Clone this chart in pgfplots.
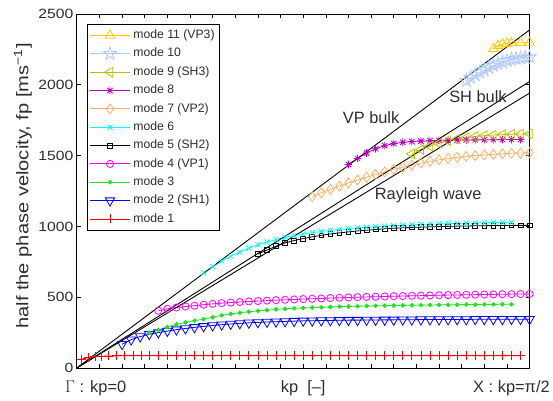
\documentclass[border=0pt]{standalone}
\usepackage{fontspec}
\setmainfont{Liberation Sans}
\newfontfamily\tickfont{Liberation Sans}[FakeStretch=1.17]
\newfontfamily\ylabfont{Liberation Sans}[FakeStretch=1.19]
\usepackage{pgfplots}
\pgfplotsset{compat=1.18}
\definecolor{cA}{RGB}{255,200,0}
\definecolor{cB}{RGB}{175,200,255}
\definecolor{cC}{RGB}{190,190,0}
\definecolor{cD}{RGB}{190,0,190}
\definecolor{cE}{RGB}{255,175,100}
\definecolor{cF}{RGB}{0,255,255}
\definecolor{cG}{RGB}{0,0,0}
\definecolor{cH}{RGB}{255,0,255}
\definecolor{cI}{RGB}{30,230,30}
\definecolor{cJ}{RGB}{0,0,255}
\definecolor{cK}{RGB}{255,0,0}
\definecolor{txt}{RGB}{45,45,45}
\pgfdeclareplotmark{pentagram}{%
 \pgfpathmoveto{\pgfpointpolar{90}{\pgfplotmarksize}}%
 \pgfpathlineto{\pgfpointpolar{126}{0.382*\pgfplotmarksize}}%
 \pgfpathlineto{\pgfpointpolar{162}{\pgfplotmarksize}}%
 \pgfpathlineto{\pgfpointpolar{198}{0.382*\pgfplotmarksize}}%
 \pgfpathlineto{\pgfpointpolar{234}{\pgfplotmarksize}}%
 \pgfpathlineto{\pgfpointpolar{270}{0.382*\pgfplotmarksize}}%
 \pgfpathlineto{\pgfpointpolar{306}{\pgfplotmarksize}}%
 \pgfpathlineto{\pgfpointpolar{342}{0.382*\pgfplotmarksize}}%
 \pgfpathlineto{\pgfpointpolar{18}{\pgfplotmarksize}}%
 \pgfpathlineto{\pgfpointpolar{54}{0.382*\pgfplotmarksize}}%
 \pgfpathclose
 \pgfusepathqstroke
}
\pgfdeclareplotmark{star8}{%
 \pgfpathmoveto{\pgfqpoint{\pgfplotmarksize}{0pt}}\pgfpathlineto{\pgfqpoint{-\pgfplotmarksize}{0pt}}%
 \pgfpathmoveto{\pgfqpoint{0pt}{\pgfplotmarksize}}\pgfpathlineto{\pgfqpoint{0pt}{-\pgfplotmarksize}}%
 \pgfpathmoveto{\pgfpoint{0.707*\pgfplotmarksize}{0.707*\pgfplotmarksize}}\pgfpathlineto{\pgfpoint{-0.707*\pgfplotmarksize}{-0.707*\pgfplotmarksize}}%
 \pgfpathmoveto{\pgfpoint{-0.707*\pgfplotmarksize}{0.707*\pgfplotmarksize}}\pgfpathlineto{\pgfpoint{0.707*\pgfplotmarksize}{-0.707*\pgfplotmarksize}}%
 \pgfusepathqstroke
}
\begin{document}
\begin{tikzpicture}
\begin{axis}[
 scale only axis, width=454bp, height=355bp,
 xmin=0, xmax=50, ymin=0, ymax=2500,
 clip=false,
 axis line style={line width=0.8bp},
 xtick={0,2.5,...,50}, xticklabels={},
 ytick={0,500,...,2500},
 xtick pos=both, ytick pos=both,
 tick align=inside, major tick length=4bp,
 tick style={line width=0.6bp, black},
 /pgf/number format/assume math mode=true,
 /pgf/number format/1000 sep={},
 y tick label style={font=\tickfont\fontsize{13.5}{15}\selectfont, text=txt},
 ylabel={half the phase velocity, fp [ms\textsuperscript{−1}]},
 ylabel style={at={(axis description cs:-0.119,0.514)}, anchor=center, rotate=0, font=\ylabfont\fontsize{17}{19}\selectfont, text=txt},
 every axis plot/.append style={line width=0.8bp},
 legend reversed,
 legend cell align=left,
 legend image code/.code={\draw[mark repeat=2,mark phase=2] plot coordinates {(0bp,0bp)(20.5bp,0bp)(41bp,0bp)};},
 legend style={at={(axis description cs:0.022,0.972)}, anchor=north west,
   font=\fontsize{12.3}{14}\selectfont, text=txt, draw=black, line width=0.8bp,
   inner sep=2bp, row sep=0bp,
   nodes={inner ysep=3.4bp, inner xsep=2.5bp, text height=9bp, text depth=2.6bp}},
]
% mode 1
\addplot[color=cK, mark=+, mark size=4.5bp] coordinates {
(0.5,62)(1.25,73)(2,80)(2.75,83)(3.5,85)(4.4,86)(5.3,86)(6.2,86)(7.1,86)(8,86)
(9,86)(10,86)(11,86)(12,86)(13,86)(14,86)(15,86)(16,86)(17,86)(18,86)(19,86)(20,86)
(21,86)(22,86)(23,86)(24,86)(25,86)(26,86)(27,86)(28,86)(29,86)(30,86)(31,86)(32,86)
(33,86)(34,86)(35,86)(36,86)(37,86)(38,86)(39,86)(40,86)(41,86)(42,86)(43,86)(44,86)
(45,86)(46,86)(47,86)(48,86)(49,86)};
\addlegendentry{mode 1}
% mode 2
\addplot[color=cJ, mark=triangle, mark size=5.5bp, mark options={rotate=180, line width=0.8bp}] coordinates {
(5,168)(6,200)(7,222)(8,238)(9,250)(10,261)(11,271)(12,279)(13,287)(14,294)(15,300)
(16,306)(17,311)(18,315)(19,319)(20,322)(21,325)(22,327)(23,329)(24,331)(25,333)
(26,334)(27,335)(28,336)(29,337)(30,338)(31,338)(32,339)(33,339)(34,340)(35,340)
(36,341)(37,341)(38,342)(39,342)(40,342)(41,343)(42,343)(43,343)(44,344)(45,344)
(46,344)(47,344)(48,345)(49,345)(50,345)};
\addlegendentry{mode 2 (SH1)}
% mode 3
\addplot[color=cI, mark=*, mark size=1.9bp] coordinates {
(8,250)(9,268)(10,290)(11,308)(12,322)(13,334)(14,345)(15,358)(16,372)(17,382)(18,390)
(19,397)(20,403)(21,409)(22,414)(23,418)(24,421)(25,424)(26,427)(27,429)(28,431)
(29,433)(30,435)(31,436)(32,438)(33,439)(34,440)(35,441)(36,442)(37,443)(38,444)
(39,445)(40,446)(41,446)(42,447)(43,448)(44,448)(45,449)(46,449)(47,450)(48,450)};
\addlegendentry{mode 3}
% mode 4
\addplot[color=cH, mark=o, mark size=3.6bp] coordinates {
(9,404)(10,418)(11,427)(12,434)(13,440)(14,447)(15,453)(16,458)(17,462)(18,466)
(19,470)(20,473)(21,476)(22,479)(23,482)(24,484)(25,487)(26,489)(27,491)(28,494)
(29,496)(30,498)(31,500)(32,502)(33,503)(34,505)(35,507)(36,508)(37,510)(38,511)
(39,512)(40,514)(41,515)(42,516)(43,517)(44,518)(45,519)(46,520)(47,521)(48,522)
(49,522)(50,523)};
\addlegendentry{mode 4 (VP1)}
% mode 5
\addplot[color=cG, mark=square, mark size=2.4bp] coordinates {
(20,805)(21,833)(22,860)(23,883)(24,900)(25,914)(26,926)(27,937)(28,946)(29,954)
(30,961)(31,968)(32,973)(33,978)(34,983)(35,987)(36,990)(37,993)(38,995)(39,997)
(40,999)(41,1000)(42,1002)(43,1003)(44,1004)(45,1005)(46,1006)(47,1006)(48,1007)
(49,1007)(50,1007)};
\addlegendentry{mode 5 (SH2)}
% mode 6
\addplot[color=cF, mark=x, mark size=3.6bp] coordinates {
(14,672)(15,715)(16,755)(17,790)(18,818)(19,847)(20,870)(21,890)(22,907)(23,922)
(24,935)(25,946)(26,956)(27,964)(28,972)(29,978)(30,984)(31,989)(32,994)(33,998)
(34,1002)(35,1005)(36,1008)(37,1011)(38,1014)(39,1016)(40,1018)(41,1020)(42,1022)
(43,1023)(44,1025)(45,1026)(46,1027)(47,1028)(48,1029)};
\addlegendentry{mode 6}
% mode 7
\addplot[color=cE, mark=diamond, mark size=5bp] coordinates {
(26,1210)(27,1237)(28,1261)(29,1284)(30,1307)(31,1328)(32,1347)(33,1366)(34,1385)
(35,1402)(36,1418)(37,1433)(38,1447)(39,1460)(40,1470)(41,1479)(42,1487)(43,1494)
(44,1500)(45,1505)(46,1509)(47,1513)(48,1516)(49,1518)(50,1520)};
\addlegendentry{mode 7 (VP2)}
% mode 8
\addplot[color=cD, mark=star8, mark size=3.8bp] coordinates {
(30,1437)(31,1480)(32,1518)(33,1548)(34,1570)(35,1585)(36,1594)(37,1599)(38,1602)
(39,1605)(40,1607)(41,1608)(42,1609)(43,1610)(44,1611)(45,1612)(46,1612)(47,1613)
(48,1613)(49,1613)};
\addlegendentry{mode 8}
% mode 9
\addplot[color=cC, mark=triangle, mark size=5.5bp, mark options={rotate=90}] coordinates {
(37,1512)(38,1542)(39,1566)(40,1587)(41,1604)(42,1617)(43,1627)(44,1635)(45,1641)
(46,1645)(47,1648)(48,1650)(49,1652)(50,1654)};
\addlegendentry{mode 9 (SH3)}
% mode 10
\addplot[color=cB, mark=pentagram, mark size=7bp] coordinates {
(43,2030)(43.5,2050)(44,2068)(44.5,2087)(45,2104)(45.5,2120)(46,2135)(46.5,2148)
(47,2160)(47.5,2170)(48,2178)(48.5,2184)(49,2189)(49.5,2193)(50,2196)};
\addlegendentry{mode 10}
% mode 11
\addplot[color=cA, mark=triangle, mark size=5.5bp] coordinates {
(46,2255)(46.5,2275)(47,2287)(47.5,2292)(48,2295)(49,2297)(50,2298)};
\addlegendentry{mode 11 (VP3)}
% bulk lines
\addplot[black, line width=0.9bp, forget plot] coordinates {(0,0)(50,2387)};
\addplot[black, line width=0.9bp, forget plot] coordinates {(0,0)(50,2023)};
\addplot[black, line width=0.9bp, forget plot] coordinates {(0,0)(50,1941)};
% annotations
\node[font=\fontsize{16.5}{18}\selectfont, text=txt] at (axis cs:32.5,1768) {VP bulk};
\node[font=\fontsize{16.5}{18}\selectfont, text=txt] at (axis cs:44.3,1915) {SH bulk};
\node[font=\fontsize{16.5}{18}\selectfont, text=txt] at (axis cs:38.8,1218) {Rayleigh wave};
\node[font=\fontsize{16.5}{18}\selectfont, text=txt, anchor=base] at (axis cs:2.09,-176) {$\Gamma$ : kp=0};
\node[font=\fontsize{16.5}{18}\selectfont, text=txt, anchor=base] at (axis cs:25,-176) {kp\ \ [–]};
\node[font=\fontsize{16.5}{18}\selectfont, text=txt, anchor=base] at (axis cs:48,-176) {X : kp=π/2};
\end{axis}
\path[use as bounding box] (-77bp,-33bp) rectangle (476bp,369bp);
\end{tikzpicture}
\end{document}
